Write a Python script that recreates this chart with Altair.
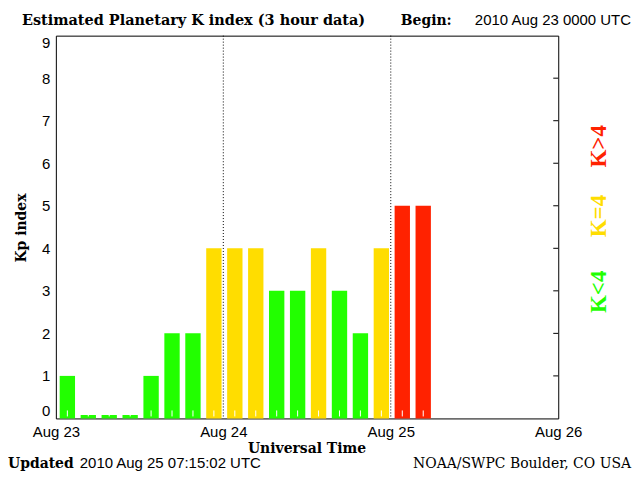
import altair as alt
import pandas as pd

# ---- data ----
start_hours = [0, 3, 6, 9, 12, 15, 18, 21,
               24, 27, 30, 33, 36, 39, 42, 45,
               48, 51]
kp_values = [1, 0, 0, 0, 1, 2, 2, 4,
             4, 4, 3, 3, 4, 3, 2, 4,
             5, 5]
day_hours = [0, 24, 48, 72]
day_labels = ["Aug 23", "Aug 24", "Aug 25", "Aug 26"]
divider_hours = [24, 48]
y_ticks = list(range(10))
right_ticks = list(range(1, 9))
levels = ["K<4", "K=4", "K>4"]
level_colors = ["#22ff00", "#ffdd00", "#ff2200"]

W, H = 504, 384


def level_of(k):
    if k < 4:
        return "K<4"
    if k == 4:
        return "K=4"
    return "K>4"


bars_df = pd.DataFrame({
    "start": start_hours,
    "kp": kp_values,
})
bars_df["x0"] = bars_df["start"] + 0.55
bars_df["x1"] = bars_df["start"] + 2.75
bars_df["mid"] = (bars_df["x0"] + bars_df["x1"]) / 2
bars_df["shown"] = bars_df["kp"].where(bars_df["kp"] > 0, 0.08)
bars_df["level"] = [level_of(k) for k in kp_values]

label_expr = "{" + ",".join(f"'{h}':'{l}'" for h, l in zip(day_hours, day_labels)) + "}[datum.value]"

xscale = alt.Scale(domain=[0, 72], nice=False, zero=False)
yscale = alt.Scale(domain=[0, 9], nice=False)

bars = alt.Chart(bars_df).mark_bar(strokeWidth=0).encode(
    x=alt.X("x0:Q", scale=xscale,
            axis=alt.Axis(values=day_hours, labelExpr=label_expr, title=None,
                          domain=False, ticks=False, grid=False,
                          labelFont="Liberation Sans", labelFontSize=15,
                          labelColor="black", labelPadding=6, labelFlush=False)),
    x2="x1:Q",
    y=alt.Y("shown:Q", scale=yscale,
            axis=alt.Axis(values=y_ticks, title=None, domain=False, ticks=False,
                          grid=False, labelFont="Liberation Sans", labelFontSize=15,
                          labelColor="black", labelPadding=6, labelFlush=True)),
    y2=alt.datum(0),
    color=alt.Color("level:N", scale=alt.Scale(domain=levels, range=level_colors), legend=None),
)

white_ticks = alt.Chart(bars_df).mark_rule(color="white", strokeWidth=1).encode(
    x=alt.X("mid:Q", scale=xscale),
    y=alt.value(H - 8),
    y2=alt.value(H - 2),
)

dividers = alt.Chart(pd.DataFrame({"h": divider_hours})).mark_rule(
    color="black", strokeWidth=1, strokeDash=[1, 2]
).encode(x=alt.X("h:Q", scale=xscale))

rticks = alt.Chart(pd.DataFrame({"v": right_ticks})).mark_rule(color="black", strokeWidth=1).encode(
    y=alt.Y("v:Q", scale=yscale),
    x=alt.value(W - 5),
    x2=alt.value(W),
)


def label(text, x, y, font="DejaVu Serif", size=14, weight="normal", color="black",
          align="left", baseline="alphabetic", angle=0):
    return alt.Chart(pd.DataFrame({"t": [text]})).mark_text(
        font=font, fontSize=size, fontWeight=weight, color=color,
        align=align, baseline=baseline, angle=angle,
    ).encode(text="t:N", x=alt.value(x), y=alt.value(y))


texts = [
    label("Estimated Planetary K index (3 hour data)", -34, -11, size=14.5, weight="bold"),
    label("Begin:", 346, -11, size=14, weight="bold"),
    label("2010 Aug 23 0000 UTC", 577, -11, font="Liberation Sans", size=15, align="right"),
    label("Kp index", -34, 193, size=14, weight="bold", align="center",
          baseline="middle", angle=270),
    label("Universal Time", 252, 419, size=14, weight="bold", align="center"),
    label("Updated", -48, 434, size=14, weight="bold"),
    label("2010 Aug 25 07:15:02 UTC", 24, 434, font="Liberation Sans", size=15),
    label("NOAA/SWPC Boulder, CO USA", 577, 434, size=14, align="right"),
    label("K>4", 545, 111, font="Liberation Serif", size=23, weight="bold",
          color=level_colors[2], align="center", baseline="middle", angle=270),
    label("K=4", 545, 181, font="Liberation Serif", size=23, weight="bold",
          color=level_colors[1], align="center", baseline="middle", angle=270),
    label("K<4", 545, 257, font="Liberation Serif", size=23, weight="bold",
          color=level_colors[0], align="center", baseline="middle", angle=270),
]

chart = alt.layer(bars, white_ticks, dividers, rticks, *texts).properties(
    width=W, height=H,
    autosize=alt.AutoSizeParams(type="none"),
    padding={"left": 48, "top": 27, "right": 74, "bottom": 53},
    background="white",
).configure_view(stroke="black", strokeWidth=1)

chart.save("out.html", embed_options={"renderer": "svg", "actions": False})
